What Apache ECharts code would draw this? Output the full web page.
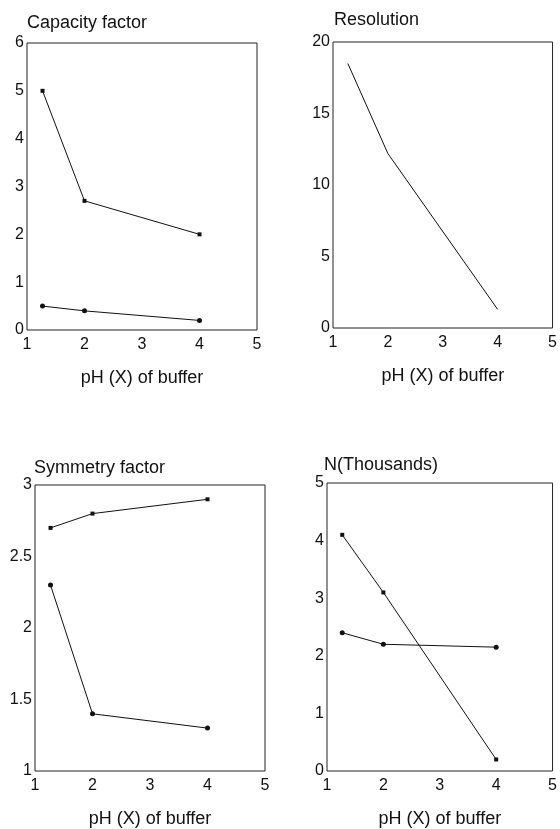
<!DOCTYPE html>
<html>
<head>
<meta charset="utf-8">
<script src="https://cdn.jsdelivr.net/npm/echarts@6/dist/echarts.min.js"></script>
<style>
html,body{margin:0;padding:0;background:#fff;}
#chart{width:560px;height:829px;}
</style>
</head>
<body>
<div id="chart"></div>
<script>
// ---- data ----
const phValues = [1.27, 2, 4];
const xTicks = [1, 2, 3, 4, 5];
const capacityUpper = [5.0, 2.7, 2.0];
const capacityLower = [0.5, 0.4, 0.2];
const resolution = [18.5, 12.2, 1.3];
const symmetryUpper = [2.7, 2.8, 2.9];
const symmetryLower = [2.3, 1.4, 1.3];
const nThousandsA = [4.1, 3.1, 0.2];
const nThousandsB = [2.4, 2.2, 2.15];
const panelTitles = ['Capacity factor', 'Resolution', 'Symmetry factor', 'N(Thousands)'];
const xAxisTitle = 'pH (X) of buffer';

// ---- layout ----
const FONT = '"Liberation Sans", Arial, Helvetica, sans-serif';
const grids = [
  {left: 27, top: 43, width: 230, height: 287},
  {left: 333, top: 42, width: 220, height: 286},
  {left: 35, top: 485, width: 230, height: 287},
  {left: 327, top: 483, width: 231, height: 288}
];
const titlePos = [
  {left: 27, top: 14},
  {left: 334, top: 11},
  {left: 34, top: 459},
  {left: 324, top: 456}
];
const yRanges = [
  {min: 0, max: 6, interval: 1},
  {min: 0, max: 20, interval: 5},
  {min: 1, max: 3, interval: 0.5},
  {min: 0, max: 5, interval: 1}
];

const pairs = arr => phValues.map((x, i) => [x, arr[i]]);

const chart = echarts.init(document.getElementById('chart'), null, {renderer: 'canvas'});

const lineStyle = {color: '#111', width: 1};
function mkSeries(idx, arr, symbol, size) {
  return {
    type: 'line', xAxisIndex: idx, yAxisIndex: idx,
    data: pairs(arr),
    symbol: symbol, symbolSize: size, showSymbol: symbol !== 'none',
    itemStyle: {color: '#111'},
    lineStyle: lineStyle,
    animation: false
  };
}

const option = {
  backgroundColor: '#fff',
  animation: false,
  title: panelTitles.map((t, i) => ({
    text: t, left: titlePos[i].left, top: titlePos[i].top, padding: 0,
    textStyle: {fontFamily: FONT, fontSize: 18, fontWeight: 'normal', color: '#111'}
  })),
  grid: grids.map(g => Object.assign({show: true, borderColor: '#222', borderWidth: 1, backgroundColor: 'transparent', containLabel: false}, g)),
  xAxis: grids.map((g, i) => ({
    type: 'value', gridIndex: i, min: xTicks[0], max: xTicks[xTicks.length - 1], interval: 1,
    name: xAxisTitle, nameLocation: 'middle', nameGap: 39,
    nameTextStyle: {fontFamily: FONT, fontSize: 18, color: '#111'},
    axisLine: {show: false}, axisTick: {show: false}, splitLine: {show: false},
    axisLabel: {fontFamily: FONT, fontSize: 16, color: '#111', margin: 7, showMinLabel: true, showMaxLabel: true}
  })),
  yAxis: grids.map((g, i) => ({
    type: 'value', gridIndex: i, min: yRanges[i].min, max: yRanges[i].max, interval: yRanges[i].interval,
    axisLine: {show: false}, axisTick: {show: false}, splitLine: {show: false},
    axisLabel: {fontFamily: FONT, fontSize: 16, color: '#111', margin: 3, showMinLabel: true, showMaxLabel: true}
  })),
  series: [
    mkSeries(0, capacityUpper, 'rect', 4),
    mkSeries(0, capacityLower, 'circle', 5),
    mkSeries(1, resolution, 'none', 0),
    mkSeries(2, symmetryUpper, 'rect', 4),
    mkSeries(2, symmetryLower, 'circle', 5),
    mkSeries(3, nThousandsA, 'rect', 4),
    mkSeries(3, nThousandsB, 'circle', 5)
  ]
};
chart.setOption(option);
</script>
</body>
</html>
